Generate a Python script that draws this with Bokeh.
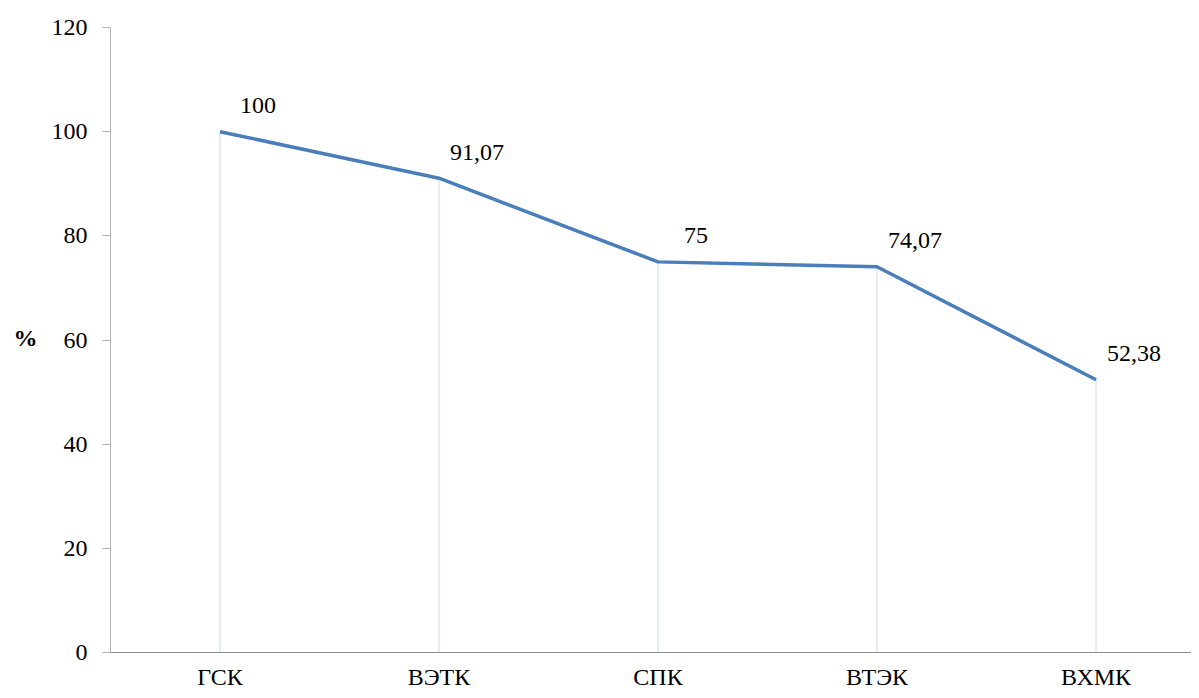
import numpy as np
from bokeh.plotting import figure
from bokeh.models import Range1d, FixedTicker, ColumnDataSource, Span
from bokeh.core.properties import value
from bokeh.embed import file_html
from bokeh.resources import INLINE

categories = ["ГСК", "ВЭТК", "СПК", "ВТЭК", "ВХМК"]
values = [100, 91.07, 75, 74.07, 52.38]
value_labels = ["100", "91,07", "75", "74,07", "52,38"]
y_ticks = [0, 20, 40, 60, 80, 100, 120]

xs = np.arange(len(categories))
src = ColumnDataSource(dict(x=xs, y=values, lab=value_labels, cat=categories,
                            zero=[0] * len(values)))

p = figure(width=1191, height=690, output_backend="svg", toolbar_location=None,
           x_range=Range1d(-0.5, 4.436), y_range=Range1d(-7.296, 120),
           min_border_left=110, min_border_right=0, min_border_top=27, min_border_bottom=0)
p.outline_line_color = None
p.xgrid.visible = False
p.ygrid.visible = False
p.xaxis.visible = False
p.background_fill_color = "white"
p.border_fill_color = "white"

font = "Liberation Serif"

# horizontal category axis line at 0
p.add_layout(Span(location=0, dimension="width", line_color="#8c8c8c", line_width=1))
# drop lines
p.segment(x0="x", y0="zero", x1="x", y1="y", source=src, line_color="#c6d9f1", line_width=1)
# main line
p.line(x="x", y="y", source=src, line_color="#4a7ebb", line_width=3.5)
# data labels
p.text(x="x", y="y", text="lab", source=src, x_offset=38, y_offset=-26,
       text_align="center", text_baseline="middle",
       text_font=value(font), text_font_size="24px", text_color="#000000")
# category labels
p.text(x="x", y="zero", text="cat", source=src, y_offset=24,
       text_align="center", text_baseline="middle",
       text_font=value(font), text_font_size="24px", text_color="#000000")

# y axis
ya = p.yaxis[0]
ya.ticker = FixedTicker(ticks=y_ticks)
ya.bounds = (0, 120)
ya.axis_line_color = "#b3b3b3"
ya.major_tick_line_color = "#b3b3b3"
ya.major_tick_out = 8
ya.major_tick_in = 0
ya.minor_tick_line_color = None
ya.major_label_text_font = font
ya.major_label_text_font_size = "24px"
ya.major_label_text_color = "#000000"
ya.major_label_standoff = 15
ya.axis_label = "%\n "
ya.axis_label_orientation = "horizontal"
ya.axis_label_text_font = font
ya.axis_label_text_font_style = "bold"
ya.axis_label_text_font_size = "24px"
ya.axis_label_text_line_height = 1.6
ya.axis_label_text_color = "#000000"
ya.axis_label_standoff = 11

open("out.html", "w").write(file_html(p, INLINE))
